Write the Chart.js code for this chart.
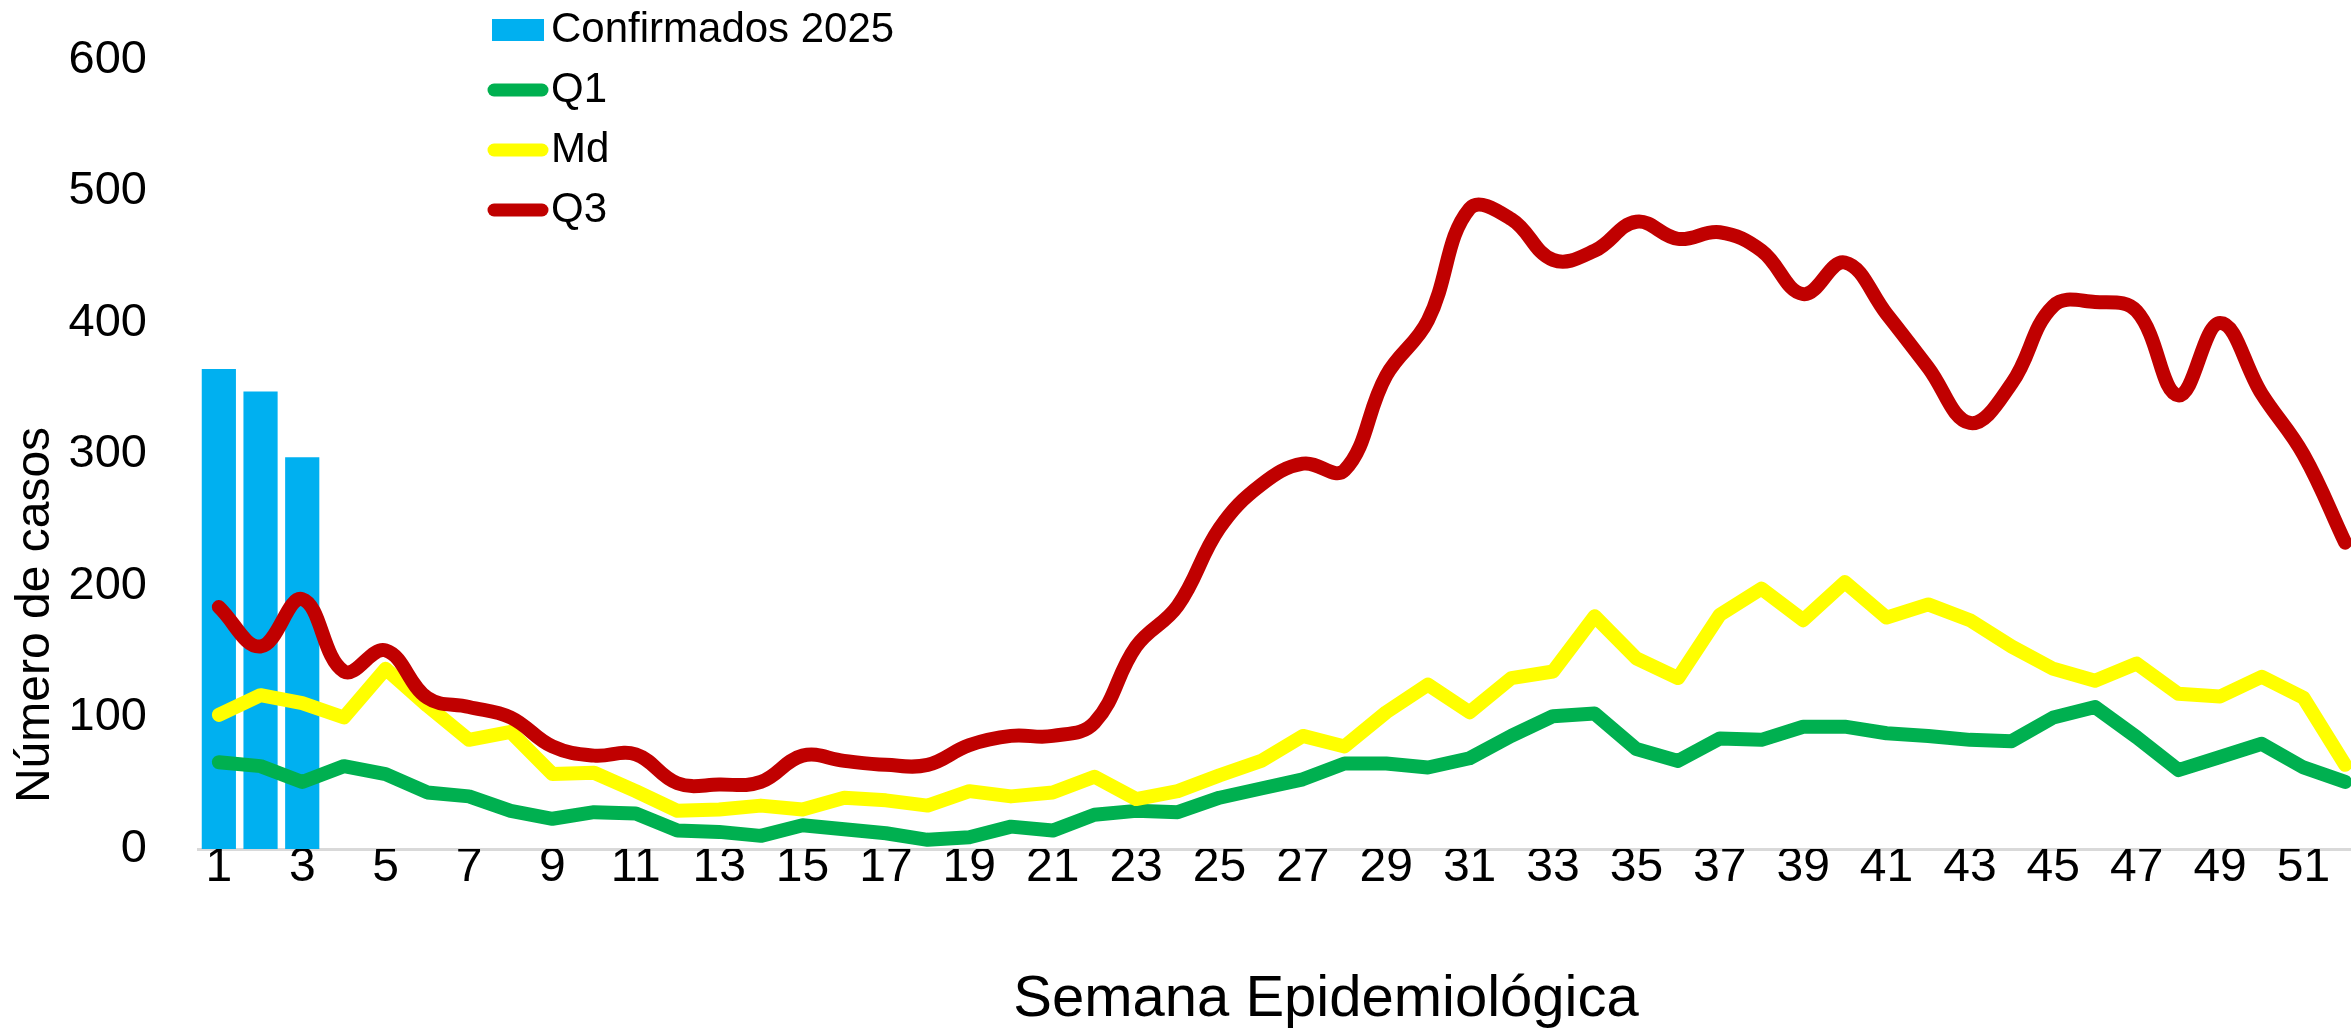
<!DOCTYPE html>
<html lang="es">
<head>
<meta charset="utf-8">
<title>Casos por semana epidemiológica</title>
<script src="https://cdn.jsdelivr.net/npm/chart.js@4.4.1/dist/chart.umd.min.js"></script>
<style>
  html, body { margin: 0; padding: 0; background: #fff; overflow: hidden; }
  #wrap { width: 2368px; height: 1031px; }
</style>
</head>
<body>
<div id="wrap"><canvas id="chart" width="2368" height="1031"></canvas></div>
<script>
// ==========================================
// DATOS
// ==========================================

const weeks = [1, 2, 3, 4, 5, 6, 7, 8, 9, 10, 11, 12, 13, 14, 15, 16, 17, 18, 19, 20,
  21, 22, 23, 24, 25, 26, 27, 28, 29, 30, 31, 32, 33, 34, 35, 36, 37, 38, 39, 40,
  41, 42, 43, 44, 45, 46, 47, 48, 49, 50, 51, 52];

// solo hay casos confirmados para las primeras semanas
const confirmados2025 = [365, 348, 298];

const q1 = [66, 63, 51, 63, 57, 43, 40, 29, 23, 28, 27, 14, 13, 10, 18, 15, 12, 7, 9, 17,
  14, 26, 29, 28, 39, 46, 53, 65, 65, 62, 69, 86, 101, 103, 76, 67, 84, 83, 93, 93,
  88, 86, 83, 82, 100, 108, 85, 60, 70, 80, 62, 51];

const md = [102, 117, 111, 100, 137, 109, 83, 89, 57, 58, 44, 29, 30, 33, 30, 39, 37, 33, 44, 40,
  43, 55, 38, 44, 56, 67, 86, 78, 104, 125, 104, 130, 135, 177, 145, 130, 178, 198, 174, 203,
  176, 186, 174, 154, 137, 128, 141, 118, 116, 131, 115, 64];

const q3 = [184, 154, 190, 135, 151, 115, 108, 100, 78, 71, 72, 50, 49, 51, 71, 67, 64, 64, 79, 86,
  86, 96, 154, 185, 244, 277, 293, 288, 360, 402, 487, 479, 448, 455, 477, 464, 469, 455, 422, 446,
  407, 366, 324, 354, 413, 416, 409, 345, 400, 346, 300, 233];

const yTicks = [0, 100, 200, 300, 400, 500, 600];

const FONT = '"Liberation Sans", Arial, sans-serif';

// ==========================================
// LEYENDA Y TÍTULOS DE EJES
// ==========================================

const overlayPlugin = {
  id: 'overlay',
  afterDraw(chart) {
    const ctx = chart.ctx;
    ctx.save();

    // leyenda vertical arriba a la izquierda
    ctx.font = `42px ${FONT}`;
    ctx.textAlign = 'left';
    ctx.textBaseline = 'middle';
    chart.data.datasets.forEach((ds, i) => {
      const y = 30 + i * 60;
      if (ds.type === 'bar') {
        ctx.fillStyle = ds.backgroundColor;
        ctx.fillRect(492, y - 11, 52, 22);
      } else {
        ctx.strokeStyle = ds.borderColor;
        ctx.lineWidth = 13;
        ctx.lineCap = 'round';
        ctx.beginPath();
        ctx.moveTo(494, y);
        ctx.lineTo(542, y);
        ctx.stroke();
      }
      ctx.fillStyle = '#000';
      ctx.fillText(ds.label, 551, y);
    });

    // título eje Y
    ctx.font = `48px ${FONT}`;
    ctx.textAlign = 'center';
    ctx.save();
    ctx.translate(36, 615);
    ctx.rotate(-Math.PI / 2);
    ctx.fillText('Número de casos', 0, 0);
    ctx.restore();

    // título eje X
    ctx.font = `58px ${FONT}`;
    ctx.fillText('Semana Epidemiológica', 1326, 1000);

    ctx.restore();
  }
};

// ==========================================
// GRÁFICO
// ==========================================

const lineStyle = {
  type: 'line',
  borderWidth: 14,
  pointRadius: 0,
  borderJoinStyle: 'round',
  borderCapStyle: 'round'
};

const ctx = document.getElementById('chart').getContext('2d');
new Chart(ctx, {
  type: 'bar',
  data: {
    labels: weeks,
    datasets: [
      {
        type: 'bar',
        label: 'Confirmados 2025',
        data: confirmados2025,
        backgroundColor: '#00B0F0',
        barPercentage: 0.82,
        categoryPercentage: 1,
        order: 4
      },
      { ...lineStyle, label: 'Q1', data: q1, borderColor: '#00B050', tension: 0, order: 3 },
      { ...lineStyle, label: 'Md', data: md, borderColor: '#FFFF00', tension: 0, order: 2 },
      { ...lineStyle, label: 'Q3', data: q3, borderColor: '#C00000', tension: 0.4, order: 1 }
    ]
  },
  options: {
    responsive: false,
    animation: false,
    layout: { padding: { top: 60, right: 2, bottom: 0, left: 0 } },
    plugins: {
      legend: { display: false },
      tooltip: { enabled: false }
    },
    scales: {
      x: {
        grid: { display: false, drawTicks: false },
        border: { display: true, color: '#D9D9D9', width: 3 },
        ticks: {
          autoSkip: false,
          maxRotation: 0,
          padding: -10,
          color: '#000',
          font: { size: 48, family: FONT },
          callback: (v, i) => (i % 2 === 0 ? String(weeks[i]) : '')
        },
        afterFit: (scale) => { scale.height = 182; }
      },
      y: {
        min: yTicks[0],
        max: yTicks[yTicks.length - 1],
        grid: { display: false, drawTicks: false },
        border: { display: false },
        ticks: {
          stepSize: 100,
          padding: 51,
          color: '#000',
          font: { size: 47, family: FONT }
        },
        afterFit: (scale) => {
          scale.width = 198;
          // el padding de las etiquetas no debe empujar el área del gráfico
          scale.paddingTop = 0;
          scale.paddingBottom = 0;
        }
      }
    }
  },
  plugins: [overlayPlugin]
});
</script>
</body>
</html>
